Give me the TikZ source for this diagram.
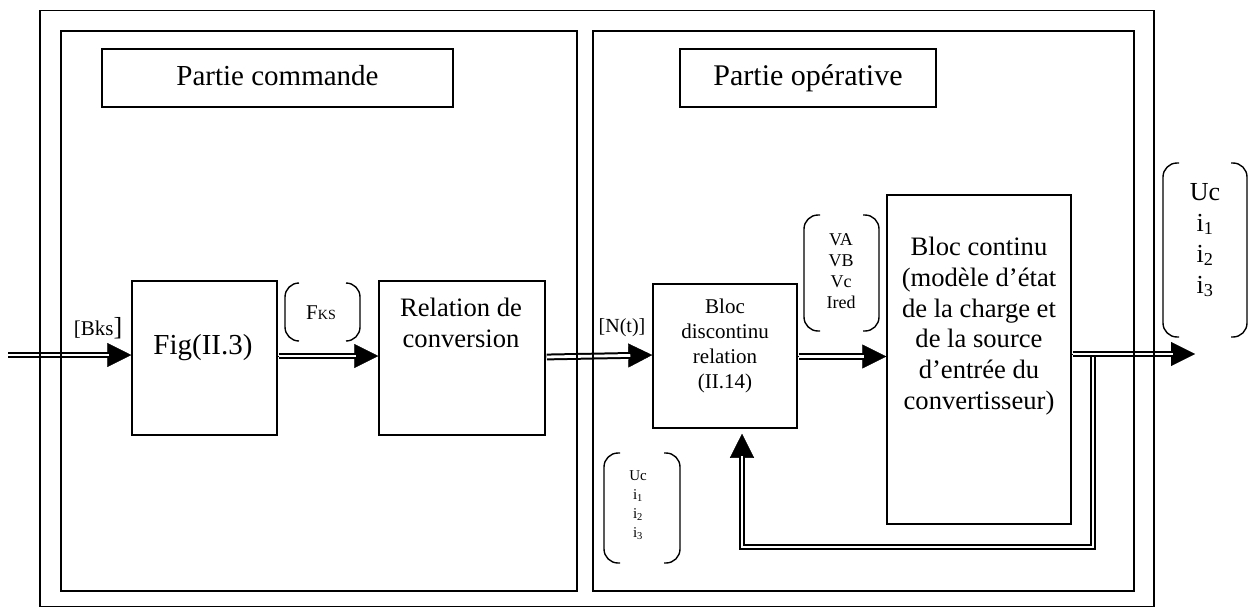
\documentclass[tikz,border=0pt]{standalone}
\usepackage{fontspec}
\setmainfont{Liberation Serif}
\usetikzlibrary{arrows.meta}
\newcommand\fs[2]{\fontsize{#1pt}{#2pt}\selectfont}
\begin{document}
\begin{tikzpicture}[x=1pt,y=-1pt,
  panel/.style={draw, line width=1.4pt},
  block/.style={draw, line width=1.5pt, inner sep=0pt, align=center},
  titlebox/.style={block, minimum height=58pt, font={\fs{29}{34}}, text height=20pt, text depth=6pt},
  txt/.style={inner sep=0pt, align=center},
  dbl/.style={double, double distance=2.8pt, line width=2pt, shorten >=22pt},
  headtip/.style={-{Triangle[length=24pt,width=24pt]}, line width=0.4pt},
  brk/.style={draw, line width=1.4pt, rounded corners=14pt}]
\useasboundingbox (0,0) rectangle (1258,608);

% title boxes
\node[titlebox, minimum width=351pt] (pc) at (277.5,78) {Partie commande};
\node[titlebox, minimum width=256pt, font={\fs{30}{34}}] (po) at (808,78) {Partie opérative};

% functional blocks
\node[block, minimum width=145pt, minimum height=154pt] (fig) at (204.5,358) {};
\node[block, minimum width=166pt, minimum height=154pt] (rel) at (462,358) {};
\node[block, minimum width=144pt, minimum height=144pt] (bd) at (725,356) {};
\node[block, minimum width=184pt, minimum height=329pt] (bc) at (979,359.5) {};

\node[txt, font={\fs{29}{34}}] (figt) at (203,348) {Fig(II.3)};
\node[txt, font={\fs{26.6}{31}}] (relt) at (461,323) {Relation de\\conversion};
\node[txt, font={\fs{21}{25}}] (bdt) at (725,346) {Bloc\\discontinu\\relation\\(II.14)};
\node[txt, font={\fs{26.6}{30.7}}] (bct) at (979,326) {Bloc continu\\(modèle d’état\\de la charge et\\de la source\\d’entrée du\\convertisseur)};

% signal labels
\node[txt, font={\fs{21}{25}}] (bks) at (98,328) {[Bks{\fs{26}{26}]}};
\node[txt, font={\fs{21}{25}}] (fks) at (321,313) {F{\fs{14}{14}KS}};
\node[txt, font={\fs{20}{24}}] (nt) at (622,328) {[N(t)]};
\node[txt, font={\fs{18}{21}}] (vab) at (841,271) {VA\\VB\\Vc\\Ired};
\node[txt, font={\fs{26}{31}}] (ucout) at (1205,240) {Uc\\i\textsubscript{1}\\i\textsubscript{2}\\i\textsubscript{3}};
\node[txt, font={\fs{15}{19}}] (ucfb) at (638,505) {Uc\\i\textsubscript{1}\\i\textsubscript{2}\\i\textsubscript{3}};

% brackets around the signal vectors
\draw[brk] (299,283) -- (285,283) -- (285,341) -- (299,341);
\draw[brk] (346,283) -- (360,283) -- (360,341) -- (346,341);
\draw[brk] (820,215) -- (804,215) -- (804,331) -- (820,331);
\draw[brk] (863,215) -- (879,215) -- (879,331) -- (863,331);
\draw[brk] (1179,163) -- (1163,163) -- (1163,337) -- (1179,337);
\draw[brk] (1231,163) -- (1247,163) -- (1247,337) -- (1231,337);
\draw[brk] (620,453) -- (604,453) -- (604,563) -- (620,563);
\draw[brk] (664,453) -- (680,453) -- (680,563) -- (664,563);

% connection points
\coordinate (in) at (8,355);
\coordinate (out) at (1195,354);
\coordinate (fbtop) at (1093,354);
\coordinate (fbbot) at (1093,547);
\coordinate (fbl) at (742,547);
\coordinate (fbend) at ([xshift=17pt,yshift=-5pt]bd.south);

% feedback loop
\draw[headtip] (fbl) -- (fbend);
\draw[dbl] (fbtop) -- (fbbot) -- (fbl) -- (fbend);

% forward chain
\draw[headtip] (in) -- ([yshift=3pt]fig.west);
\draw[dbl] (in) -- ([yshift=3pt]fig.west);
\draw[headtip] ([yshift=2pt]fig.east) -- ([yshift=2pt]rel.west);
\draw[dbl, shorten <=1pt] ([yshift=2pt]fig.east) -- ([yshift=2pt]rel.west);
\draw[headtip] ([yshift=1pt]rel.east) -- ([yshift=1pt]bd.west);
\draw[dbl, shorten <=1pt] ([yshift=1pt]rel.east) -- ([yshift=1pt]bd.west);
\draw[headtip] ([yshift=-0.5pt]bd.east) -- ([yshift=3pt]bc.west);
\draw[dbl, shorten <=1pt] ([yshift=-0.5pt]bd.east) -- ([yshift=3pt]bc.west);
\draw[headtip] ([yshift=5.5pt]bc.east) -- (out);
\draw[dbl, shorten <=1pt] ([yshift=5.5pt]bc.east) -- (out);

% frames
\draw[panel] (40,10.5) rectangle (1154,606.5);
\draw[panel] (61,31) rectangle (577,591);
\draw[panel] (593,31) rectangle (1134,591);
\end{tikzpicture}
\end{document}
